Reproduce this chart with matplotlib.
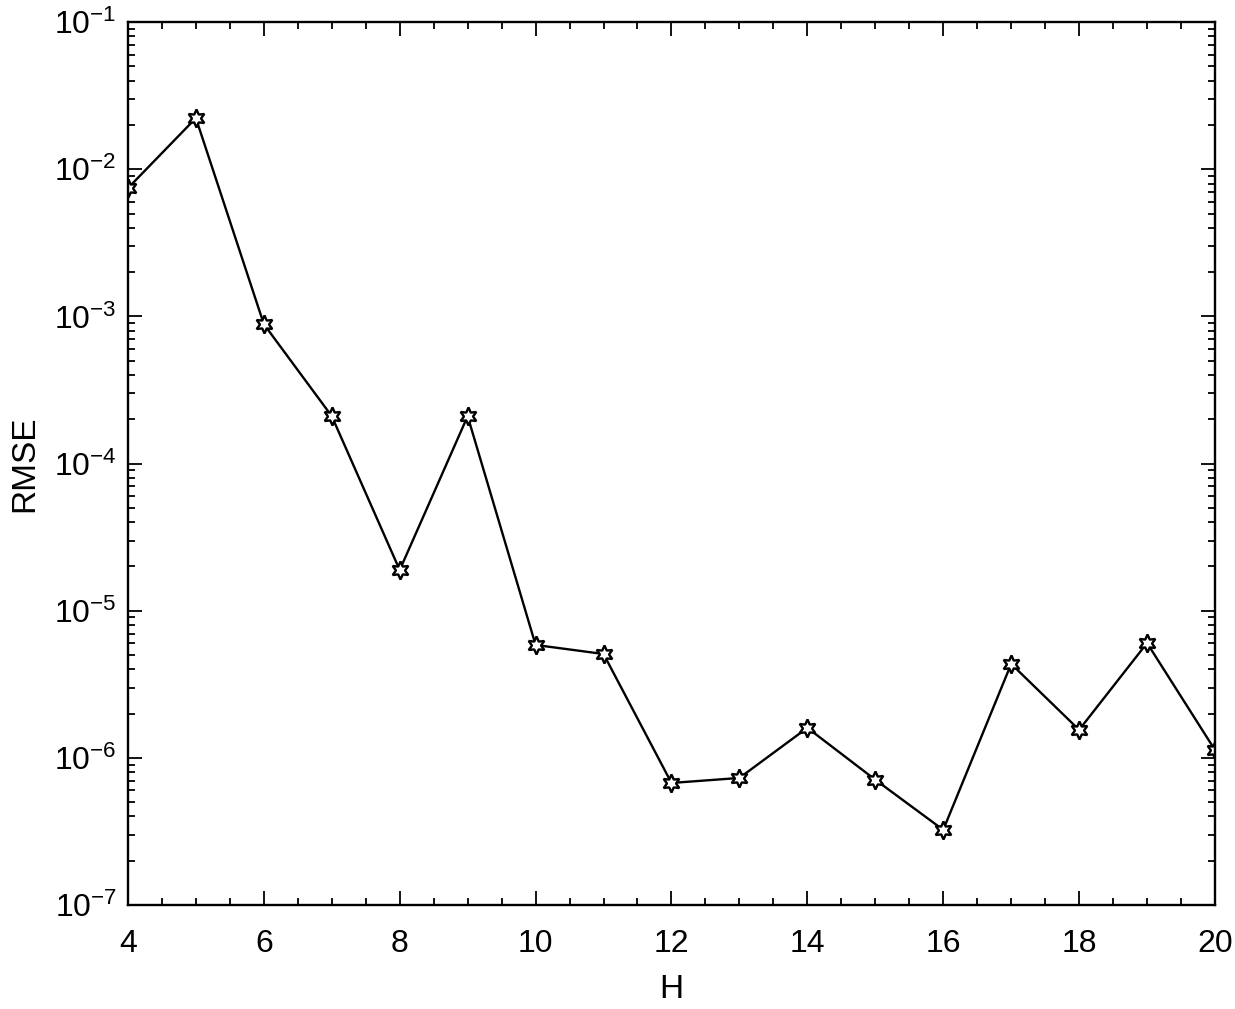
import numpy as np
import matplotlib
matplotlib.use('Agg')
import matplotlib.pyplot as plt
from matplotlib.ticker import MultipleLocator, LogLocator, NullFormatter

plt.rcParams['font.family'] = ['Liberation Sans', 'DejaVu Sans']
plt.rcParams['mathtext.fontset'] = 'custom'
plt.rcParams['mathtext.rm'] = 'Liberation Sans'
plt.rcParams['mathtext.it'] = 'Liberation Sans'
plt.rcParams['mathtext.default'] = 'regular'

# H values and RMSE
H = [4, 5, 6, 7, 8, 9, 10, 11, 12, 13, 14, 15, 16, 17, 18, 19, 20]
rmse = [7.45e-3, 2.23e-2, 8.87e-4, 2.10e-4, 1.89e-5, 2.10e-4, 5.85e-6, 5.08e-6,
        6.75e-7, 7.3e-7, 1.6e-6, 7.1e-7, 3.24e-7, 4.35e-6, 1.55e-6, 6.03e-6, 1.13e-6]

fig = plt.figure(figsize=(12.35, 10.09), dpi=100)
ax = fig.add_axes([0.1036, 0.1031, 0.8802, 0.8749])

ax.semilogy(H, rmse, color='black', lw=1.7, marker=(6, 1, 0), ms=13,
            mfc='white', mec='black', mew=1.7)

ax.set_xlim(4, 20)
ax.set_ylim(1e-7, 1e-1)
ax.xaxis.set_major_locator(MultipleLocator(2))
ax.xaxis.set_minor_locator(MultipleLocator(0.5))
ax.yaxis.set_major_locator(LogLocator(base=10, numticks=20))
ax.yaxis.set_minor_locator(LogLocator(base=10, subs=np.arange(2, 10), numticks=20))
ax.yaxis.set_minor_formatter(NullFormatter())

ax.tick_params(which='both', direction='in', top=True, right=True, labelsize=23,
               width=1.3, colors='black')
ax.tick_params(which='major', length=10)
ax.tick_params(which='minor', length=5)
ax.tick_params(axis='x', pad=17)
ax.tick_params(axis='y', pad=8)
for s in ax.spines.values():
    s.set_linewidth(1.7)

ax.set_xlabel('H', fontsize=24, labelpad=11)
ax.set_ylabel('RMSE', fontsize=24, labelpad=10)

fig.savefig('out.png', dpi=100)
